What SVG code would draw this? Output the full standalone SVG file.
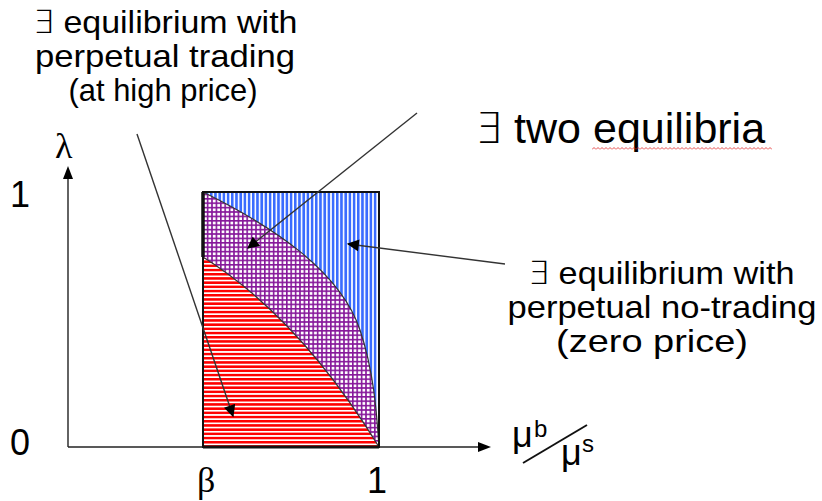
<svg xmlns="http://www.w3.org/2000/svg" width="822" height="501" viewBox="0 0 822 501">
  <style>
    .lbl { font-family: "Liberation Sans", Arial, sans-serif; font-size: 32px; fill: #000; }
    .title { font-family: "Liberation Sans", Arial, sans-serif; font-size: 43px; fill: #000; }
    .ex { font-family: "DejaVu Sans", sans-serif; font-weight: 200; }
    .num { font-family: "Liberation Sans", Arial, sans-serif; font-size: 36px; fill: #000; }
    .greek { font-family: "Liberation Serif", "Times New Roman", serif; font-size: 36px; fill: #000; }
    .mu { font-family: "Liberation Sans", Arial, sans-serif; font-size: 36px; fill: #000; }
    .sup { font-family: "Liberation Sans", Arial, sans-serif; font-size: 24px; fill: #000; }
    .edge { fill: none; stroke: #333; stroke-width: 1.2; }
    .conn { fill: none; stroke: #333; stroke-width: 1.4; marker-end: url(#arrow); }
    .axis { fill: none; stroke: #222; stroke-width: 1.4; }
  </style>
  <defs>
    <marker id="arrow" viewBox="0 0 10 10" refX="9" refY="5" markerWidth="13" markerHeight="12" markerUnits="userSpaceOnUse" orient="auto">
      <path d="M0,0 L10,5 L0,10 Z" fill="#000"/>
    </marker>
    <pattern id="redH" width="4" height="4.2" patternUnits="userSpaceOnUse">
      <rect width="4" height="4.2" fill="#fff"/>
      <rect width="4" height="2.5" fill="#ff0000"/>
    </pattern>
    <pattern id="blueV" width="4.2" height="4" patternUnits="userSpaceOnUse">
      <rect width="4.2" height="4" fill="#fff"/>
      <rect width="2.6" height="4" fill="#3a6cff"/>
    </pattern>
    <pattern id="purpleGrid" width="4.4" height="4.4" patternUnits="userSpaceOnUse">
      <rect width="4.4" height="4.4" fill="#fff"/>
      <rect width="1.6" height="4.4" fill="#86179a"/>
      <rect width="4.4" height="1.6" fill="#86179a"/>
    </pattern>
    <pattern id="squiggle" width="4" height="3" patternUnits="userSpaceOnUse">
      <path d="M0,2.5 L2,0.5 L4,2.5" fill="none" stroke="#e02020" stroke-width="0.8"/>
    </pattern>
  </defs>

  <g id="axes">
    <line class="axis" x1="68" y1="447" x2="68" y2="178"/>
    <path d="M68,166 L63,179 L73,179 Z" fill="#000"/>
    <line class="axis" x1="68" y1="447" x2="480" y2="447"/>
    <path d="M491,447 L478,442 L478,452 Z" fill="#000"/>
  </g>

  <g id="region-no-trading">
    <path d="M203,192 L379,192 L379,447 C377,420 375,375 360,330 C340,270 270,225 203,192 Z" fill="url(#blueV)"/>
  </g>
  <g id="region-two-equilibria">
    <path d="M203,192 C270,225 340,270 360,330 C375,375 377,420 379,447 Q300,318 203,257 Z" fill="url(#purpleGrid)"/>
  </g>
  <g id="region-trading">
    <path d="M203,257 Q300,318 379,447 L203,447 Z" fill="url(#redH)"/>
  </g>
  <g id="boundaries">
    <path class="edge" d="M203,192 C270,225 340,270 360,330 C375,375 377,420 379,447"/>
    <path class="edge" d="M203,257 Q300,318 379,447"/>
    <rect x="203" y="192" width="176" height="255" fill="none" stroke="#111" stroke-width="2"/>
    <line x1="203" y1="192" x2="203" y2="257" stroke="#111" stroke-width="3.5"/>
    <line x1="203" y1="447" x2="379" y2="447" stroke="#111" stroke-width="3"/>
  </g>

  <g id="connectors">
    <line class="conn" x1="137" y1="134" x2="233" y2="416"/>
    <line class="conn" x1="417" y1="113" x2="248" y2="248"/>
    <line class="conn" x1="505" y1="264" x2="348" y2="244"/>
  </g>

  <g id="label-trading">
    <text class="lbl" x="165" y="33" text-anchor="middle" textLength="265" lengthAdjust="spacingAndGlyphs"><tspan class="ex">∃</tspan> equilibrium with</text>
    <text class="lbl" x="165" y="67" text-anchor="middle" textLength="260" lengthAdjust="spacingAndGlyphs">perpetual trading</text>
    <text class="lbl" x="163" y="101" text-anchor="middle" textLength="189" lengthAdjust="spacingAndGlyphs">(at high price)</text>
  </g>
  <g id="label-two">
    <text class="title" x="475" y="143"><tspan class="ex">∃</tspan> two equilibria</text>
    <rect x="592" y="147" width="180" height="3" fill="url(#squiggle)"/>
  </g>
  <g id="label-no-trading">
    <text class="lbl" x="661" y="284" text-anchor="middle" textLength="267" lengthAdjust="spacingAndGlyphs"><tspan class="ex">∃</tspan> equilibrium with</text>
    <text class="lbl" x="662" y="318" text-anchor="middle" textLength="309" lengthAdjust="spacingAndGlyphs">perpetual no-trading</text>
    <text class="lbl" x="652" y="352" text-anchor="middle" textLength="192" lengthAdjust="spacingAndGlyphs">(zero price)</text>
  </g>

  <g id="axis-labels">
    <text class="greek" x="55" y="158">λ</text>
    <text class="num" x="10" y="207">1</text>
    <text class="num" x="10" y="455">0</text>
    <text class="greek" x="197" y="492">β</text>
    <text class="num" x="367" y="493" font-size="35">1</text>
    <text class="mu" x="512" y="447">μ</text>
    <text class="sup" x="534" y="437">b</text>
    <line x1="523" y1="463" x2="587" y2="425" stroke="#111" stroke-width="2"/>
    <text class="mu" x="561" y="465">μ</text>
    <text class="sup" x="582" y="452">s</text>
  </g>
</svg>
